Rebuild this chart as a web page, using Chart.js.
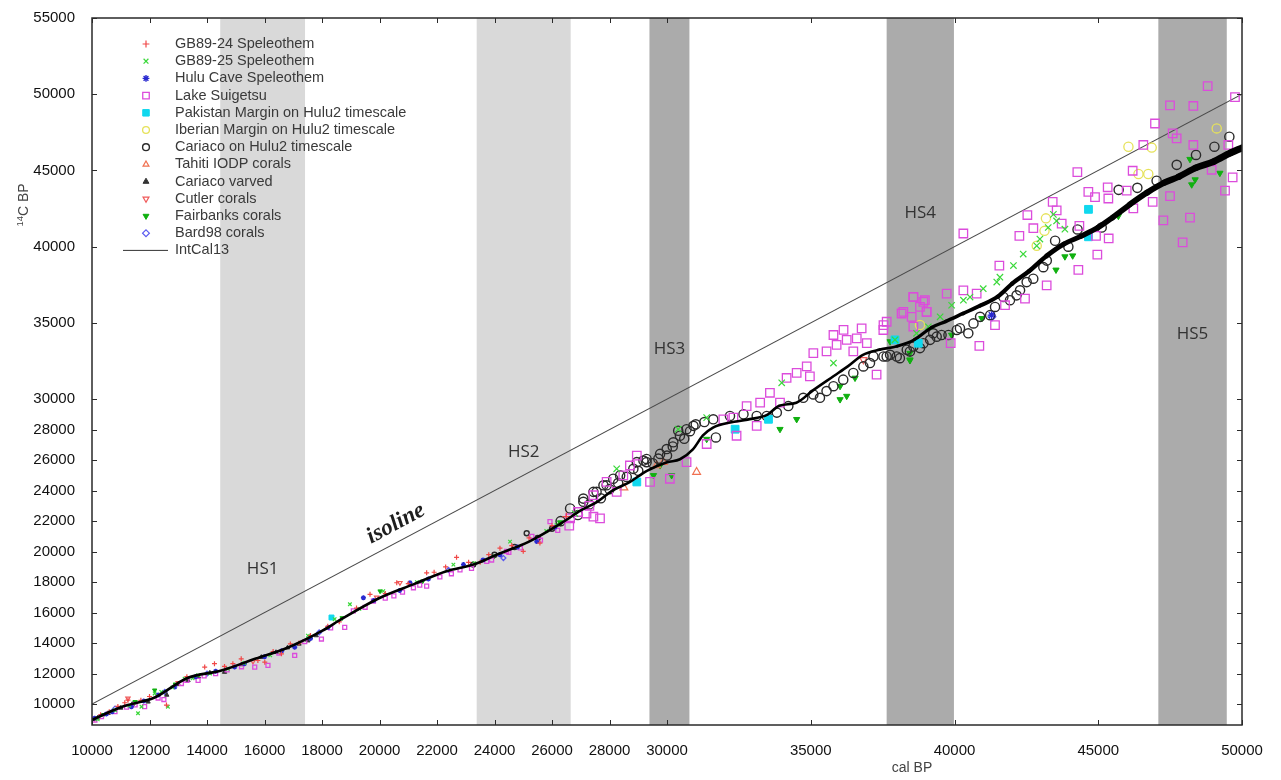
<!DOCTYPE html>
<html>
<head>
<meta charset="utf-8">
<script src="https://cdn.jsdelivr.net/npm/chart.js@4.4.1/dist/chart.umd.min.js"></script>
<style>
  html, body { margin: 0; padding: 0; background: #fff; }
  canvas { display: block; }
</style>
</head>
<body>
<canvas id="chart" width="1281" height="780"></canvas>
<script>
// axis ticks (the original axis changes step above 30000)
const xTicks = [10000, 12000, 14000, 16000, 18000, 20000, 22000, 24000, 26000, 28000, 30000, 35000, 40000, 45000, 50000];
const yTicks = [10000, 12000, 14000, 16000, 18000, 20000, 22000, 24000, 26000, 28000, 30000, 35000, 40000, 45000, 50000, 55000];

// Heinrich stadials (cal BP)
const hsNames = ['HS1', 'HS2', 'HS3', 'HS4', 'HS5'];
const hsStart = [14460, 23380, 29390, 37640, 47090];
const hsEnd = [17410, 26650, 30780, 39980, 49470];
const hsLabelY = [18840, 26510, 33280, 42180, 34250];

// IntCal13 curve
const intcalX = [10000, 11000, 12200, 13300, 14500, 15700, 16800, 18000, 18700, 20000, 21200, 22300, 23300, 24100, 25200, 26400, 27000, 27600, 28100, 28700, 29300, 30000, 30450, 30900, 31250, 31600, 32200, 32800, 33500, 33900, 34500, 35100, 35800, 36300, 36800, 37400, 38000, 38600, 39200, 39700, 40300, 40900, 41500, 42000, 42600, 43200, 43800, 44400, 45000, 45500, 46100, 46700, 47300, 47800, 48400, 49000, 49600, 50000];
const intcalY = [8960, 9800, 10450, 11700, 12200, 12990, 13700, 14800, 15600, 16960, 17870, 18700, 19170, 19820, 20660, 21960, 22700, 23300, 24000, 24560, 25300, 25860, 26060, 26710, 27620, 28140, 28470, 28660, 28990, 29570, 29770, 30610, 31520, 32170, 32890, 33250, 33470, 33900, 34700, 35100, 35620, 36140, 36720, 37570, 38410, 39390, 40170, 40690, 41270, 41920, 42770, 43550, 44200, 44590, 45180, 45570, 46150, 46480];

// 1:1 isoline
const isoX = [10000, 50000];
const isoY = [10000, 50000];

// records [cal BP, 14C BP]
const gb8924 = [[10300,9300],[10600,9500],[10900,9850],[11140,10090],[11250,10260],[11700,10250],[12000,10500],[12590,9940],[13300,11800],[13920,12430],[14260,12650],[14610,12470],[14900,12650],[15190,12970],[15770,12860],[16010,12750],[16300,13450],[16590,13300],[16900,13950],[17200,14000],[17600,14500],[18200,15100],[18600,15400],[19200,16300],[19670,17200],[20200,17250],[20600,17960],[21000,17900],[21640,18610],[21900,18650],[22300,19000],[22680,19630],[23100,19300],[23500,19300],[23800,19800],[24190,20230],[24600,20400],[25000,20020],[25200,20900],[25580,20560],[26000,21700],[26500,22300]];
const gb8925 = [[10200,9000],[10800,9600],[11300,9900],[11600,9400],[11720,9830],[12180,10700],[12410,10800],[12640,9830],[12800,11100],[13220,11670],[13500,11700],[13690,11890],[14100,12000],[14730,12320],[15300,12700],[16200,13200],[17510,14490],[18440,15570],[18970,16550],[19300,16250],[20130,17410],[21300,18000],[22570,19150],[23300,19250],[24540,20660],[25800,21350],[26160,21750],[26800,22500],[28250,25430],[30390,28030],[31380,28790],[33990,31070],[35790,32370],[37930,33890],[38680,34320],[39090,34750],[39500,35400],[39900,36160],[40310,36490],[40540,36700],[41000,37250],[41470,37680],[41580,38000],[42050,38760],[42390,39520],[42860,40060],[42970,40500],[43260,41260],[43440,42120],[43550,41690],[43840,41150]];
const hulu = [[10090,9070],[10500,9350],[10700,9500],[11370,9830],[11800,10200],[12300,10600],[12880,11130],[13600,11800],[14300,12150],[14960,12430],[15300,12650],[16000,13100],[16600,13500],[17050,13730],[17600,14300],[18210,15030],[19440,16980],[19800,16800],[20700,17450],[21060,17960],[21700,18200],[22920,19150],[23600,19450],[24190,19800],[24800,20300],[25470,20660],[26100,21600],[41290,35510]];
const suigetsu = [[10100,8950],[10330,9180],[10800,9500],[11200,9800],[11500,9950],[11830,9830],[12300,10400],[12500,10300],[13110,11350],[13300,11550],[13690,11560],[13900,11850],[14300,12000],[14700,12250],[15200,12450],[15660,12430],[16120,12540],[16500,13350],[17050,13190],[17400,14100],[17980,14270],[18300,15000],[18790,15030],[19090,16110],[19500,16350],[19790,16760],[20200,16950],[20500,17100],[20800,17350],[21180,17630],[21400,17800],[21640,17740],[22100,18350],[22500,18550],[22800,18800],[23200,18900],[23730,19360],[23900,19450],[24420,20010],[24500,19950],[24900,20250],[25300,21000],[25600,20750],[25930,21970],[26200,21400],[26600,21700],[26630,22180],[26900,22600],[27200,22500],[27300,23000],[27440,22290],[27670,22180],[28710,25650],
  [27440,23700],[27900,24570],[28250,23920],[28480,25000],[28950,26300],[29410,24570],[30100,24780],[30680,25870],[31380,27060],[31960,28680],[32310,28790],[32420,27600],[32770,29550],[33120,28250],[33240,29770],[33580,30420],[33930,29770],[34160,31390],[34510,31720],[34860,32150],[34970,31500],[35090,33020],[35550,33130],[35790,34210],[35900,33560],[36140,34540],[36250,33890],[36480,33130],[36600,33990],[36770,34640],[36950,33670],[37290,31610],[37530,34860],[38160,35620],[38510,35400],[38570,36700],[38800,36050],[38970,36490],[39030,35730],
  [37525,34537],[37641,35079],[38221,35729],[38568,34754],[38568,36704],[38916,36379],[39032,35729],[39728,36921],[39867,33670],[40308,37137],[40308,40865],[40771,36921],[40864,33497],[41409,34862],[41560,38763],[41757,36162],[42256,40713],[42452,36596],[42534,42078],[42742,41212],[43206,37462],[43415,42945],[43554,42382],[43728,41515],[44273,44895],[44308,38481],[44343,41363],[44655,43595],[44887,43248],[44922,40713],[44968,39478],[45328,43898],[45351,43162],[45363,40540],[45989,43682],[46197,44982],[46220,42512],[46568,46672],[46893,42945],[46974,48080],[47264,41732],[47496,49270],[47496,43313],[47589,47430],[47727,47106],[47936,40280],[48191,41905],[48307,49230],[48307,46672],[48806,50530],[48945,45047],[49409,43682],[49524,46672],[49675,44548],[49756,49814]];
const pakistan = [[18330,15680],[28950,24570],[32370,28030],[33530,28680],[37930,33890],[38740,33670],[44660,42450],[44660,40650]];
const iberian = [[38800,34860],[42860,40060],[43130,41040],[43180,41860],[46050,46560],[46400,44770],[46740,44770],[46860,46500],[49120,47760]];
const cariaco = [[23260,19150],[24000,19800],[24700,20300],[25120,21210],[25500,20900],[26000,21500],[26300,22000],[26630,22830],[26900,22400],[27090,23270],[27090,23480],[27300,23100],[27440,23920],[27550,23920],[27700,23500],[27790,24350],[27900,24350],[28000,24100],[28130,24780],[28300,24500],[28370,25000],[28600,24900],[28830,25430],[28950,25870],[29000,25300],[29180,25970],[29290,26080],[29290,25870],[29500,25800],[29700,26100],[29760,26410],[29990,26730],[30000,26300],[30200,26900],[30220,27170],[30390,27930],[30450,27600],[30600,27400],[30680,28030],[30800,27900],[30920,28250],[31000,28350],[31300,28500],[31610,28680],[31700,27490],[32190,28900],[32660,29010],[33120,28900],[33470,28900],[33820,29120],[34220,29550],[34740,30090],[35090,30310],[35320,30090],[35550,30530],[35790,30850],[36130,31280],[36480,31720],[36830,32150],[37060,32370],[37180,32800],[37530,32800],[37640,32800],[37760,32910],[37990,32800],[38100,32690],[38340,33240],[38450,33130],[38570,33450],[38800,33350],[38920,33670],[39150,33890],[39260,34320],[39380,34100],[39550,34210],[39790,34210],[40080,34540],[40190,34650],[40480,34320],[40660,34970],[40890,35400],[41240,35510],[41410,36050],[41700,36700],[41930,36490],[42160,36810],[42280,37140],[42510,37680],[42740,37900],[43090,38660],[43210,39090],[43500,40390],[43960,40000],[44280,41130],[45120,41260],[45710,43730],[46360,43860],[47030,44330],[47730,45370],[48400,46020],[49040,46560],[49560,47210]];
const tahiti = [[28500,24200],[29640,25650],[29870,25870],[31030,25220]];
const cariacoVarved = [[10200,9100],[10560,9400],[11000,9750],[11400,10000],[11950,10150],[12600,10600],[13000,11300],[13340,11560],[13700,11800],[14100,12050],[14610,12100],[15200,12600],[15890,13080],[16400,13400],[16800,13700],[17200,13950],[17510,14160],[17800,14500]];
const cutler = [[10100,9050],[11250,10370],[13000,11400],[15600,12800],[19900,17000],[20710,17960],[36830,32590]];
const fairbanks = [[10400,9300],[11500,10150],[12180,10910],[12900,11300],[18700,15650],[20020,17410],[21500,18050],[24000,19700],[26300,21900],[29530,25000],[29760,25650],[30160,25000],[31380,27380],[33930,28030],[34510,28680],[36020,30850],[36020,29980],[36250,30200],[36540,31390],[37760,33780],[38450,33020],[38450,32540],[38450,32590],[39900,34210],[40950,35300],[43530,38480],[43840,39350],[44110,39410],[45700,42010],[48190,45740],[48250,44070],[48370,44400],[49230,44830]];
const bard98 = [[10800,9700],[12530,10800],[14000,12000],[17900,14700],[22400,18800],[24310,19580],[41300,35400]];

// marker styles per series
const series = [
  { label: 'GB89-24 Speleothem', data: gb8924, style: 'cross', color: '#f04848', fill: 'transparent', small: 2.5, big: 4, bw: 1.2 },
  { label: 'GB89-25 Speleothem', data: gb8925, style: 'crossRot', color: '#3ad83a', fill: 'transparent', small: 2.5, big: 4.5, bw: 1.2 },
  { label: 'Hulu Cave Speleothem', data: hulu, style: 'star', color: '#2a2ad0', fill: 'transparent', small: 2.5, big: 4, bw: 1.4 },
  { label: 'Lake Suigetsu', data: suigetsu, style: 'rect', color: '#dc4cdc', fill: 'transparent', small: 2.8, big: 6, bw: 1.3 },
  { label: 'Pakistan Margin on Hulu2 timescale', data: pakistan, style: 'rect', color: '#10d8ee', fill: '#10d8ee', small: 3.5, big: 5.5, bw: 1 },
  { label: 'Iberian Margin on Hulu2 timescale', data: iberian, style: 'circle', color: '#e6e25a', fill: 'transparent', small: 2.5, big: 4.6, bw: 1.3 },
  { label: 'Cariaco on Hulu2 timescale', data: cariaco, style: 'circle', color: '#2a2a2a', fill: 'transparent', small: 2.5, big: 4.6, bw: 1.4 },
  { label: 'Tahiti IODP corals', data: tahiti, style: 'triangle', color: '#f07050', fill: 'transparent', small: 3, big: 4.5, bw: 1.2 },
  { label: 'Cariaco varved', data: cariacoVarved, style: 'triangle', color: '#333333', fill: '#333333', small: 2.5, big: 3, bw: 1 },
  { label: 'Cutler corals', data: cutler, style: 'triangle', rot: 180, color: '#f05a5a', fill: 'transparent', small: 2.5, big: 4, bw: 1.2 },
  { label: 'Fairbanks corals', data: fairbanks, style: 'triangle', rot: 180, color: '#10b010', fill: '#10b010', small: 2.5, big: 3.6, bw: 1 },
  { label: 'Bard98 corals', data: bard98, style: 'rectRot', color: '#5a5af0', fill: 'transparent', small: 2.5, big: 4, bw: 1.2 }
];

const datasets = series.map((s, i) => ({
  label: s.label,
  data: s.data.map(p => ({ x: p[0], y: p[1] })),
  showLine: false,
  pointStyle: s.style,
  pointRotation: s.rot || 0,
  borderColor: s.color,
  backgroundColor: s.fill,
  pointBorderWidth: s.bw,
  pointRadius: ctx => (ctx.raw && ctx.raw.x < 26300 ? s.small : s.big),
  legendSample: true,
  order: 10 + i
}));

datasets.push({
  type: 'line',
  label: 'IntCal13',
  data: intcalX.map((x, i) => ({ x, y: intcalY[i] })),
  borderColor: '#000',
  pointRadius: 0,
  cubicInterpolationMode: 'monotone',
  borderCapStyle: 'round',
  borderJoinStyle: 'round',
  segment: {
    borderWidth: ctx => {
      const x = intcalX[ctx.p0DataIndex];
      return 2.6 + Math.max(0, x - 37000) / 13000 * 4.6;
    }
  },
  legendLine: true,
  order: 0
});

datasets.push({
  type: 'line',
  label: 'isoline',
  data: isoX.map((x, i) => ({ x, y: isoY[i] })),
  borderColor: '#4a4a4a',
  borderWidth: 1.1,
  pointRadius: 0,
  order: 50
});

const bandsPlugin = {
  id: 'bands',
  beforeDatasetsDraw(chart) {
    const { ctx, chartArea, scales } = chart;
    ctx.save();
    hsStart.forEach((s, i) => {
      const x0 = scales.x.getPixelForValue(s);
      const x1 = scales.x.getPixelForValue(hsEnd[i]);
      ctx.fillStyle = i < 2 ? '#d9d9d9' : '#ababab';
      ctx.fillRect(x0, chartArea.top, x1 - x0, chartArea.bottom - chartArea.top);
    });
    ctx.restore();
  }
};

const notesPlugin = {
  id: 'notes',
  afterDatasetsDraw(chart) {
    const { ctx, scales } = chart;
    const xs = scales.x, ys = scales.y;
    ctx.save();
    ctx.fillStyle = '#333';
    ctx.font = '17px "Open Sans", "Liberation Sans", sans-serif';
    ctx.textAlign = 'center';
    ctx.textBaseline = 'middle';
    hsNames.forEach((n, i) => {
      ctx.fillText(n, xs.getPixelForValue((hsStart[i] + hsEnd[i]) / 2), ys.getPixelForValue(hsLabelY[i]));
    });
    // isoline label, along the 1:1 line
    const a = Math.atan2(ys.getPixelForValue(isoY[1]) - ys.getPixelForValue(isoY[0]),
                         xs.getPixelForValue(isoX[1]) - xs.getPixelForValue(isoX[0]));
    ctx.translate(xs.getPixelForValue(20570), ys.getPixelForValue(21830));
    ctx.rotate(a);
    ctx.fillStyle = '#1e1e1e';
    ctx.font = 'italic bold 23px "Liberation Serif", "DejaVu Serif", serif';
    ctx.fillText('isoline', 0, 0);
    ctx.restore();

    // legend inside the plot
    ctx.save();
    ctx.font = '14.5px "Liberation Sans", Arial, sans-serif';
    ctx.textBaseline = 'middle';
    ctx.textAlign = 'left';
    let y = 44;
    chart.data.datasets.forEach(ds => {
      if (!ds.legendSample && !ds.legendLine) return;
      if (ds.legendSample) {
        ctx.strokeStyle = ds.borderColor;
        ctx.fillStyle = ds.backgroundColor;
        ctx.lineWidth = ds.pointBorderWidth;
        Chart.helpers.drawPoint(ctx, {
          pointStyle: ds.pointStyle,
          rotation: ds.pointRotation,
          radius: ds.pointStyle === 'rect' ? 4.6 : 3.4,
          borderWidth: ds.pointBorderWidth
        }, 146, y);
      } else {
        ctx.strokeStyle = '#333';
        ctx.lineWidth = 1;
        ctx.beginPath();
        ctx.moveTo(123, y);
        ctx.lineTo(168, y);
        ctx.stroke();
      }
      ctx.fillStyle = '#3a3a3a';
      ctx.fillText(ds.label, 175, y);
      y += 17.2;
    });
    ctx.restore();
  },
  afterDraw(chart) {
    const { ctx, chartArea: a, scales } = chart;
    ctx.save();
    ctx.strokeStyle = '#2a2a2a';
    ctx.lineWidth = 1.5;
    ctx.strokeRect(a.left, a.top, a.right - a.left, a.bottom - a.top);
    ctx.lineWidth = 1;
    ctx.beginPath();
    xTicks.forEach(v => {
      const px = Math.round(scales.x.getPixelForValue(v)) + 0.5;
      ctx.moveTo(px, a.bottom); ctx.lineTo(px, a.bottom - 5);
      ctx.moveTo(px, a.top); ctx.lineTo(px, a.top + 5);
    });
    yTicks.forEach(v => {
      const py = Math.round(scales.y.getPixelForValue(v)) + 0.5;
      ctx.moveTo(a.left, py); ctx.lineTo(a.left + 5, py);
      ctx.moveTo(a.right, py); ctx.lineTo(a.right - 5, py);
    });
    ctx.stroke();

    // axis titles
    ctx.fillStyle = '#444';
    ctx.textBaseline = 'middle';
    ctx.font = '14px "Liberation Sans", Arial, sans-serif';
    ctx.textAlign = 'center';
    ctx.fillText('cal BP', 912, 768);

    ctx.translate(24, 205);
    ctx.rotate(-Math.PI / 2);
    ctx.textAlign = 'left';
    ctx.font = '9.5px "Liberation Sans", Arial, sans-serif';
    const w1 = ctx.measureText('14').width;
    ctx.font = '14px "Liberation Sans", Arial, sans-serif';
    const w2 = ctx.measureText('C BP').width;
    const start = -(w1 + w2) / 2;
    ctx.font = '9.5px "Liberation Sans", Arial, sans-serif';
    ctx.fillText('14', start, -4);
    ctx.font = '14px "Liberation Sans", Arial, sans-serif';
    ctx.fillText('C BP', start + w1, 0);
    ctx.restore();
  }
};

const tickFont = { family: '"Liberation Sans", Arial, sans-serif', size: 15 };

new Chart(document.getElementById('chart'), {
  type: 'scatter',
  data: { datasets },
  options: {
    responsive: false,
    animation: false,
    events: [],
    layout: { padding: { top: 11, right: 39, left: 0, bottom: 0 } },
    plugins: {
      legend: { display: false },
      tooltip: { enabled: false }
    },
    scales: {
      x: {
        type: 'linear',
        min: 10000,
        max: 50000,
        afterBuildTicks: s => { s.ticks = xTicks.map(v => ({ value: v })); },
        afterFit: s => { s.height = 55; },
        grid: { display: false },
        border: { display: false },
        ticks: { autoSkip: false, maxRotation: 0, padding: 9, color: '#111', font: tickFont, callback: v => String(v) }
      },
      y: {
        type: 'linear',
        min: 8630,
        max: 55000,
        afterBuildTicks: s => { s.ticks = yTicks.map(v => ({ value: v })); },
        afterFit: s => { s.width = 92; },
        grid: { display: false },
        border: { display: false },
        ticks: { autoSkip: false, padding: 9, color: '#111', font: tickFont, callback: v => String(v) }
      }
    }
  },
  plugins: [bandsPlugin, notesPlugin]
});
</script>
</body>
</html>
